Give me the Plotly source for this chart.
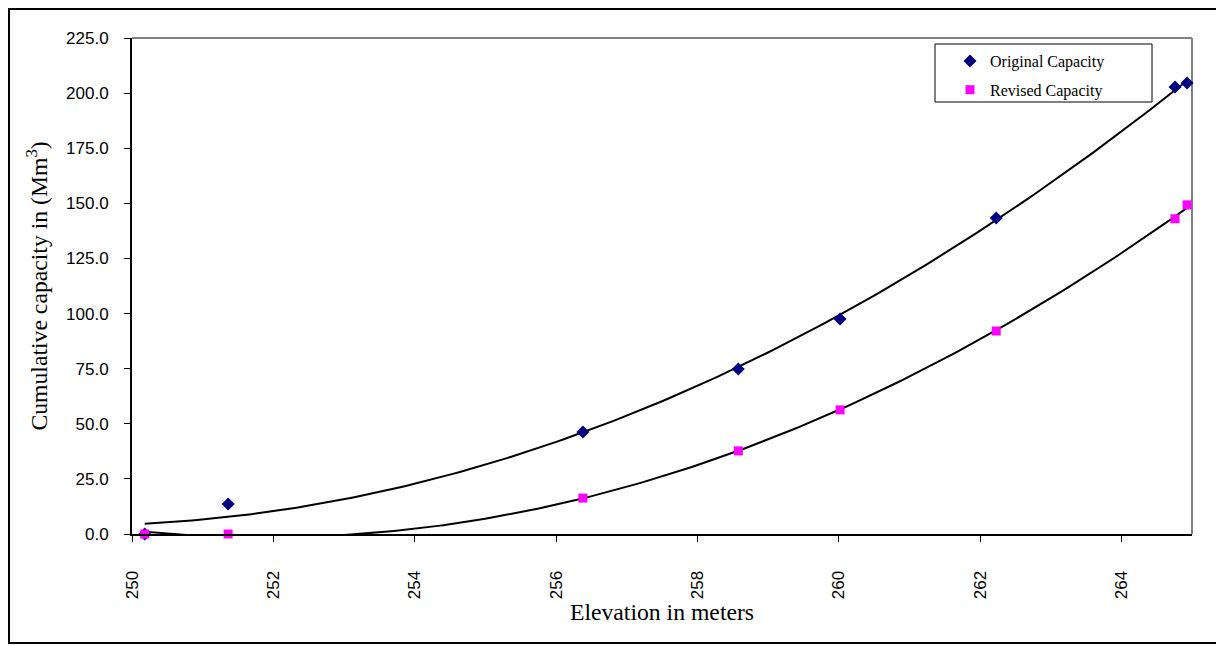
import numpy as np
import plotly.graph_objects as go

# Data
elevation = [250.18, 251.36, 256.38, 258.58, 260.02, 262.23, 264.76, 264.93]
original_capacity = [0.0, 13.6, 46.3, 74.9, 97.5, 143.4, 202.8, 204.6]
revised_capacity = [0.0, 0.0, 16.3, 37.7, 56.3, 92.1, 143.0, 149.3]
x_ticks = [250, 252, 254, 256, 258, 260, 262, 264]
y_ticks = [0, 25, 50, 75, 100, 125, 150, 175, 200, 225]

# Second-order polynomial trendlines (as in the original spreadsheet chart)
xs = np.linspace(min(elevation), max(elevation), 200)
fit_o = np.polyval(np.polyfit(elevation, original_capacity, 2), xs)
fit_r = np.polyval(np.polyfit(elevation, revised_capacity, 2), xs)

fig = go.Figure()
fig.add_trace(go.Scatter(x=xs, y=fit_o, mode="lines", line=dict(color="black", width=2),
                         showlegend=False, hoverinfo="skip"))
fig.add_trace(go.Scatter(x=xs, y=fit_r, mode="lines", line=dict(color="black", width=2),
                         showlegend=False, hoverinfo="skip"))
fig.add_trace(go.Scatter(x=elevation, y=original_capacity, mode="markers", name="Original Capacity",
                         marker=dict(symbol="diamond", size=10, color="#000080"),
                         cliponaxis=False, legendgroup="a"))
fig.add_trace(go.Scatter(x=elevation, y=revised_capacity, mode="markers", name="Revised Capacity",
                         marker=dict(symbol="square", size=9, color="#FF00FF"),
                         cliponaxis=False, legendgroup="b"))

OFF = 8  # page body margin
W, H = 1224 - OFF, 646 - OFF
# plot area in page pixels
PL, PR, PT, PB = 132, 1192, 38, 534
L = PL - OFF
T = PT - OFF
R = W - (PR - OFF)
B = H - (PB - OFF)
pw, ph = PR - PL, PB - PT

def px(xpage):
    return (xpage - PL) / pw

def py(ypage):
    return (PB - ypage) / ph

shapes = [
    # plot-area border (gray top and right)
    dict(type="line", xref="paper", yref="paper", x0=0, x1=1, y0=1, y1=1,
         line=dict(color="#808080", width=2), layer="below"),
    dict(type="line", xref="paper", yref="paper", x0=1, x1=1, y0=0, y1=1,
         line=dict(color="#808080", width=2), layer="below"),
    # outer chart border
    dict(type="rect", xref="paper", yref="paper", x0=px(9), x1=px(1222), y0=py(643), y1=py(9),
         line=dict(color="black", width=2)),
    # legend box
    dict(type="rect", xref="paper", yref="paper", x0=px(935), x1=px(1152), y0=py(102), y1=py(44),
         line=dict(color="black", width=1)),
]

fig.update_layout(
    width=W, height=H,
    margin=dict(l=L, r=R, t=T, b=B),
    paper_bgcolor="white", plot_bgcolor="white",
    font=dict(family="Liberation Sans, Arial, sans-serif", color="black"),
    shapes=shapes,
    showlegend=True,
    legend=dict(x=px(950), y=py(44), xanchor="left", yanchor="top",
                bgcolor="rgba(0,0,0,0)", borderwidth=0, tracegroupgap=5,
                font=dict(family="Liberation Serif, Times New Roman, serif", size=16),
                itemwidth=30),
    xaxis=dict(range=[250, 265], tickvals=x_ticks, ticktext=[str(v) for v in x_ticks],
               tickangle=-90, ticks="outside", ticklen=6, tickcolor="black", tickwidth=1,
               showline=True, linecolor="black", linewidth=2, showgrid=False, zeroline=False,
               tickfont=dict(size=17), ticklabelstandoff=22,
               title=dict(text="Elevation in meters",
                          font=dict(family="Liberation Serif, Times New Roman, serif", size=23.7),
                          standoff=0)),
    yaxis=dict(range=[0, 225], tickvals=y_ticks, ticktext=[f"{v:.1f}" for v in y_ticks],
               ticks="outside", ticklen=6, tickcolor="black", tickwidth=1,
               showline=True, linecolor="black", linewidth=2, showgrid=False, zeroline=False,
               tickfont=dict(size=17), ticklabelstandoff=12,
               title=dict(text="Cumulative capacity in (Mm<sup>3</sup>)",
                          font=dict(family="Liberation Serif, Times New Roman, serif", size=23.7),
                          standoff=12)),
)

fig.write_html("out.html")
